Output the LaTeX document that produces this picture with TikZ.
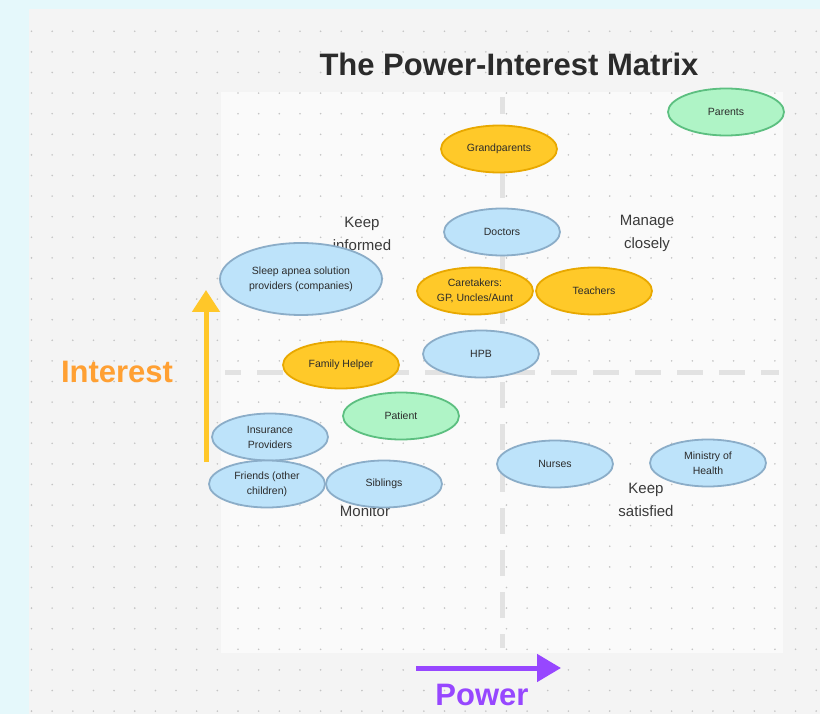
\documentclass[tikz,border=0pt]{standalone}
\usepackage{fontspec}
\setmainfont{Liberation Sans}
\usetikzlibrary{shapes.geometric,arrows.meta}
\definecolor{bgcyan}{HTML}{E5F8FB}
\definecolor{canvasc}{HTML}{F4F4F4}
\definecolor{panelc}{HTML}{FAFAFA}
\definecolor{dotc}{HTML}{C4C4C4}
\definecolor{dashc}{HTML}{E2E2E2}
\definecolor{txtc}{HTML}{2B2B2B}
\definecolor{lblc}{HTML}{3A3A3A}
\definecolor{bfill}{HTML}{BDE3FA}
\definecolor{bdraw}{HTML}{8BADC8}
\definecolor{yfill}{HTML}{FFC929}
\definecolor{ydraw}{HTML}{E8A800}
\definecolor{gfill}{HTML}{AFF4C6}
\definecolor{gdraw}{HTML}{5CBF80}
\definecolor{arrowy}{HTML}{FFC729}
\definecolor{interestc}{HTML}{FFA033}
\definecolor{powerc}{HTML}{9747FF}
\tikzset{
  stk/.style={ellipse, line width=1.8pt, minimum width=116pt, minimum height=47pt,
    inner sep=0pt, align=center, font=\fontsize{10.5}{15}\selectfont, text=txtc},
  bluestk/.style={stk, fill=bfill, draw=bdraw},
  yelstk/.style={stk, fill=yfill, draw=ydraw},
  grnstk/.style={stk, fill=gfill, draw=gdraw},
  quad/.style={align=center, font=\fontsize{15}{23}\selectfont, text=lblc, inner sep=0pt},
  divider/.style={dashc, line width=5pt, dash pattern=on 26pt off 16pt},
  axislbl/.style={font=\fontsize{31}{36}\selectfont\bfseries, inner sep=0pt}
}
\begin{document}
\begin{tikzpicture}[x=1pt,y=-1pt]
\useasboundingbox (0,0) rectangle (820,714);
\fill[bgcyan] (0,0) rectangle (820,714);
\fill[canvasc] (29,9) rectangle (820,714);
\fill[panelc] (221,92) rectangle (783,653);
\foreach \i in {0,...,38} {
  \foreach \j in {0,...,33} {
    \fill[dotc] (31.5+20.65*\i, 31.3+20.6*\j) circle (0.9pt);
  }
}
% title
\node[axislbl, text=txtc, anchor=base] (title) at (509,76) {The Power-Interest Matrix};
% dividers
\coordinate (vtop) at (502,97);
\coordinate (vbot) at (502,648);
\coordinate (hleft) at (225,372);
\coordinate (hright) at (779,372);
\draw[divider, dash phase=9pt] (vtop) -- (vbot);
\draw[divider, dash phase=10pt] (hleft) -- (hright);
% quadrant labels
\node[quad] (kinf) at (362,234) {Keep\\informed};
\node[quad] (mcl) at (647,233) {Manage\\closely};
\node[quad] (mon) at (365,511) {Monitor};
\node[quad] (ksat) at (646,500) {Keep\\satisfied};
% axes
\coordinate (ibot) at (206,462);
\coordinate (itop) at (206,290);
\draw[arrowy, line width=5pt, -{Triangle[length=22pt,width=27pt]}] (ibot) -- (itop);
\node[axislbl, text=interestc, anchor=base] (interest) at (117,382) {Interest};
\coordinate (pleft) at (416,668);
\coordinate (pright) at (561,668);
\draw[powerc, line width=5pt, -{Triangle[length=24pt,width=27pt]}] (pleft) -- (pright);
\node[axislbl, text=powerc, anchor=base] (power) at (482,705) {Power};
% stakeholders
\node[grnstk] (parents) at (726,112) {Parents};
\node[yelstk] (grandparents) at (499,149) {Grandparents};
\node[bluestk] (doctors) at (502,232) {Doctors};
\node[bluestk, minimum width=162pt, minimum height=72pt] (sleep) at (301,279) {Sleep apnea solution\\providers (companies)};
\node[yelstk] (caretakers) at (475,291) {Caretakers:\\GP, Uncles/Aunt};
\node[yelstk] (teachers) at (594,291) {Teachers};
\node[bluestk] (hpb) at (481,354) {HPB};
\node[yelstk] (familyhelper) at (341,365) {Family Helper};
\node[grnstk] (patient) at (401,416) {Patient};
\node[bluestk] (insurance) at (270,437) {Insurance\\Providers};
\node[bluestk] (friends) at (267,484) {Friends (other\\children)};
\node[bluestk] (siblings) at (384,484) {Siblings};
\node[bluestk] (nurses) at (555,464) {Nurses};
\node[bluestk] (ministry) at (708,463) {Ministry of\\Health};
\end{tikzpicture}
\end{document}
